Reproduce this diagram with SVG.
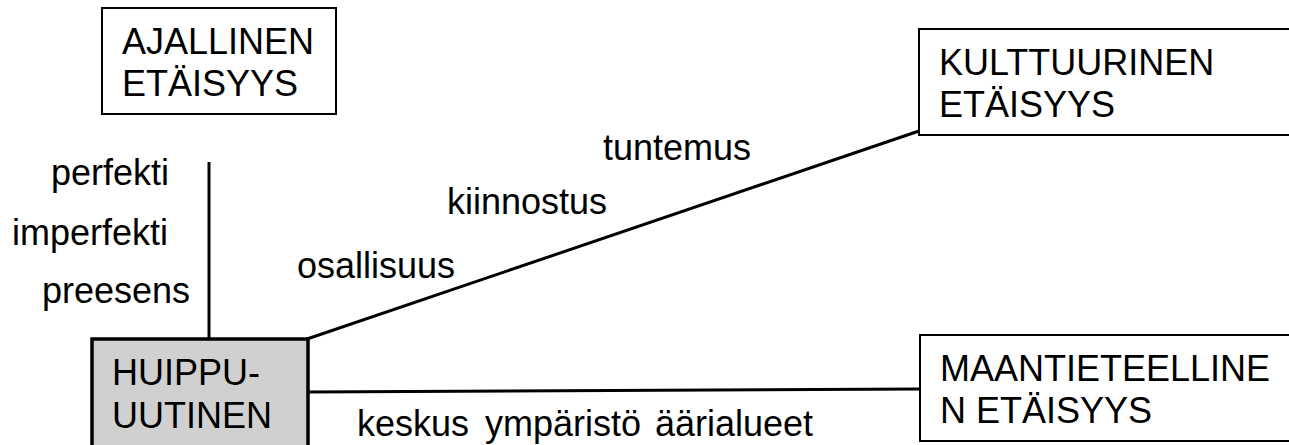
<svg xmlns="http://www.w3.org/2000/svg" width="1289" height="445" viewBox="0 0 1289 445">
<style>
text{font-family:"Liberation Sans",Arial,sans-serif;font-size:36px;fill:#000}
.box{fill:#fff;stroke:#000;stroke-width:2}
.main{fill:#d0d0d0;stroke:#000;stroke-width:3.5}
.conn{stroke:#000;stroke-width:3;fill:none}
</style>
<rect width="1289" height="445" fill="#fff"/>
<g id="connectors">
<line class="conn" x1="209" y1="162" x2="209" y2="338"/>
<line class="conn" x1="307" y1="339" x2="919" y2="131"/>
<line class="conn" x1="307" y1="392" x2="919" y2="389"/>
</g>
<g id="ajallinen">
<rect class="box" x="102" y="8" width="234" height="106"/>
<text x="122" y="54">AJALLINEN</text>
<text x="122" y="96">ETÄISYYS</text>
</g>
<g id="kulttuurinen">
<rect class="box" x="919" y="29" width="380" height="106"/>
<text x="939" y="75">KULTTUURINEN</text>
<text x="939" y="117">ETÄISYYS</text>
</g>
<g id="maantieteellinen">
<rect class="box" x="920" y="335" width="380" height="106"/>
<text x="940" y="381">MAANTIETEELLINE</text>
<text x="940" y="423">N ETÄISYYS</text>
</g>
<g id="huippu">
<rect class="main" x="92" y="339" width="216" height="120"/>
<text x="112" y="385">HUIPPU-</text>
<text x="112" y="428">UUTINEN</text>
</g>
<g id="labels">
<text x="51" y="185">perfekti</text>
<text x="12" y="245">imperfekti</text>
<text x="42" y="303">preesens</text>
<text x="297" y="278">osallisuus</text>
<text x="447" y="214">kiinnostus</text>
<text x="603" y="160">tuntemus</text>
<text x="357" y="436">keskus</text>
<text x="485" y="436">ympäristö</text>
<text x="655" y="436">äärialueet</text>
</g>
</svg>
